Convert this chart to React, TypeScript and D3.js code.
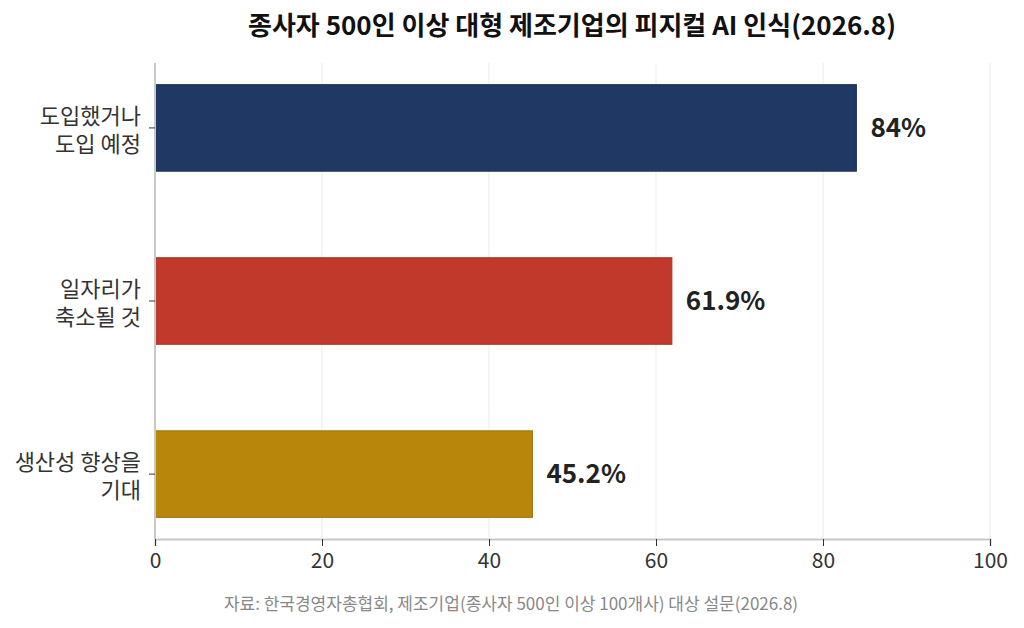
import React, { useEffect, useRef } from "react";
import * as d3 from "d3";

const categories: string[][] = [
  ["도입했거나", "도입 예정"],
  ["일자리가", "축소될 것"],
  ["생산성 향상을", "기대"],
];
const values: number[] = [84, 61.9, 45.2];
const valueLabels: string[] = ["84%", "61.9%", "45.2%"];
const colors: string[] = ["#203864", "#c0392b", "#b8860b"];
const xTicks: number[] = [0, 20, 40, 60, 80, 100];

const title = "종사자 500인 이상 대형 제조기업의 피지컬 AI 인식(2026.8)";
const source = "자료: 한국경영자총협회, 제조기업(종사자 500인 이상 100개사) 대상 설문(2026.8)";

const width = 1024;
const height = 628;
const marginTop = 63;
const marginRight = 34;
const marginBottom = 89;
const marginLeft = 155;
const font = "'Noto Sans CJK KR', 'Noto Sans', sans-serif";

export default function App() {
  const ref = useRef<SVGSVGElement | null>(null);

  useEffect(() => {
    const svgEl = ref.current;
    if (!svgEl) return;
    const svg = d3.select(svgEl);
    svg.selectAll("*").remove();

    const x = d3
      .scaleLinear()
      .domain([0, 100])
      .range([marginLeft, width - marginRight]);

    const y = d3
      .scaleBand<number>()
      .domain(d3.range(categories.length))
      .range([marginTop, height - marginBottom])
      .paddingInner(0.5)
      .paddingOuter(0.125);

    // grid
    svg
      .append("g")
      .selectAll("line")
      .data(xTicks.slice(1))
      .join("line")
      .attr("x1", (d) => x(d))
      .attr("x2", (d) => x(d))
      .attr("y1", marginTop)
      .attr("y2", height - marginBottom)
      .attr("stroke", "#ebebeb")
      .attr("stroke-width", 1);

    // bars
    svg
      .append("g")
      .selectAll("rect")
      .data(values)
      .join("rect")
      .attr("x", x(0))
      .attr("y", (_, i) => y(i)!)
      .attr("width", (d) => x(d) - x(0))
      .attr("height", y.bandwidth())
      .attr("fill", (_, i) => colors[i])
      .attr("stroke", (_, i) => d3.color(colors[i])!.darker(0.4).toString())
      .attr("stroke-width", 1);

    // value labels
    svg
      .append("g")
      .selectAll("text")
      .data(values)
      .join("text")
      .attr("x", (d) => x(d) + 14)
      .attr("y", (_, i) => y(i)! + y.bandwidth() / 2)
      .attr("dy", "0.35em")
      .attr("font-family", font)
      .attr("font-size", 26)
      .attr("font-weight", 700)
      .attr("fill", "#222")
      .text((_, i) => valueLabels[i]);

    // x axis
    const xAxis = svg
      .append("g")
      .attr("transform", `translate(0,${height - marginBottom})`)
      .call(d3.axisBottom(x).tickValues(xTicks).tickSize(7).tickPadding(7));
    xAxis.select(".domain").attr("stroke", "#c8c8c8").attr("stroke-width", 2);
    xAxis.selectAll(".tick line").attr("stroke", "#333");
    xAxis
      .selectAll(".tick text")
      .attr("font-family", font)
      .attr("font-size", 21)
      .attr("fill", "#333");

    // y axis
    const yAxis = svg
      .append("g")
      .attr("transform", `translate(${marginLeft},0)`)
      .call(d3.axisLeft(y).tickSize(6).tickFormat(() => ""));
    yAxis
      .select(".domain")
      .attr("stroke", "#c8c8c8")
      .attr("stroke-width", 2)
      .attr("d", `M0,${marginTop}V${height - marginBottom}`);
    yAxis.selectAll(".tick line").attr("stroke", "#333");

    // category labels, one text per line
    const lineOffsets = [-4, 24];
    const yLabelGroups = svg
      .append("g")
      .selectAll("g")
      .data(categories)
      .join("g")
      .attr("transform", (_, i) => `translate(${marginLeft - 14},${y(i)! + y.bandwidth() / 2})`);
    yLabelGroups
      .selectAll("text")
      .data((d) => d)
      .join("text")
      .attr("text-anchor", "end")
      .attr("font-family", font)
      .attr("font-size", 22)
      .attr("fill", "#333")
      .attr("y", (_, j) => lineOffsets[j])
      .text((d) => d);

    // title
    svg
      .append("text")
      .attr("x", 572)
      .attr("y", 35)
      .attr("text-anchor", "middle")
      .attr("font-family", font)
      .attr("font-size", 26)
      .attr("font-weight", 700)
      .attr("fill", "#111")
      .text(title);

    // source
    svg
      .append("text")
      .attr("x", 511)
      .attr("y", 610)
      .attr("text-anchor", "middle")
      .attr("font-family", font)
      .attr("font-size", 17)
      .attr("fill", "#888")
      .text(source);
  }, []);

  return (
    <svg
      ref={ref}
      width={width}
      height={height}
      style={{ position: "absolute", left: 0, top: 0, background: "#fff" }}
    />
  );
}
